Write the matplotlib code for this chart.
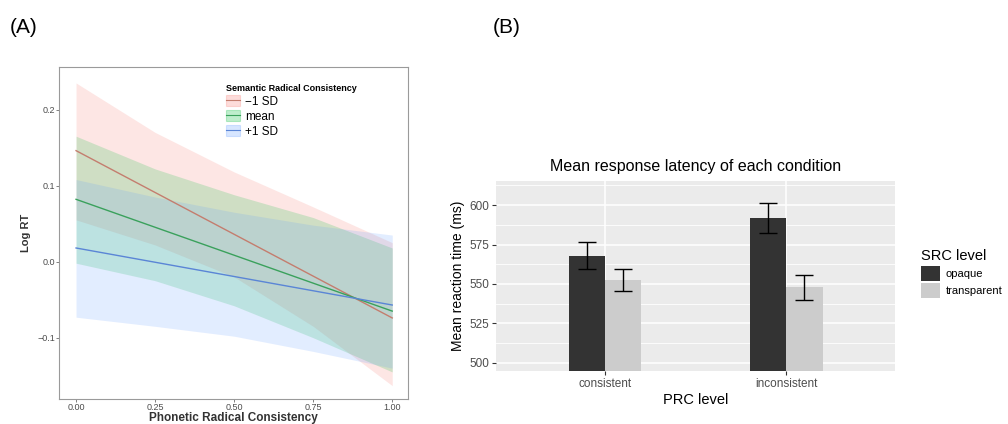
import numpy as np
import matplotlib
matplotlib.use("Agg")
import matplotlib.pyplot as plt
from matplotlib.patches import Patch
from matplotlib.lines import Line2D
from matplotlib.legend_handler import HandlerTuple

plt.rcParams['font.family'] = ['Liberation Sans', 'DejaVu Sans']

# ---- panel A data: regression lines with confidence bands ----
prc_x = [0.0, 0.25, 0.5, 0.75, 1.0]
src_levels = ['\u22121 SD', 'mean', '+1 SD']
line_start = [0.146, 0.082, 0.018]    # fitted log RT at PRC = 0
line_end = [-0.074, -0.065, -0.057]   # fitted log RT at PRC = 1
band_upper = [
    [0.235, 0.170, 0.118, 0.072, 0.025],
    [0.165, 0.122, 0.088, 0.058, 0.018],
    [0.108, 0.085, 0.065, 0.048, 0.035],
]
band_lower = [
    [0.055, 0.022, -0.020, -0.085, -0.163],
    [-0.002, -0.025, -0.058, -0.100, -0.145],
    [-0.073, -0.085, -0.098, -0.118, -0.140],
]
fill_cols = ['#F8766D', '#00BA38', '#619CFF']
line_cols = ['#c47d6e', '#3aa15c', '#5a85d6']

# ---- panel B data: mean RT per condition ----
prc_levels = ['consistent', 'inconsistent']
src_names = ['opaque', 'transparent']
rt_opaque = [567.9, 591.6]
rt_transparent = [552.5, 547.9]
err_opaque = [8.4, 9.6]
err_transparent = [7.2, 7.9]
bar_cols = ['#333333', '#CCCCCC']

fig = plt.figure(figsize=(10.08, 4.24), dpi=100)

# ================= panel A =================
axA = fig.add_axes([0.0585, 0.060, 0.3463, 0.782])
for i in range(3):
    axA.fill_between(prc_x, band_lower[i], band_upper[i], color=fill_cols[i],
                     alpha=0.18, linewidth=0)
for i in range(3):
    axA.plot([0, 1], [line_start[i], line_end[i]], color=line_cols[i], lw=1.0)

axA.set_xlim(-0.054, 1.05)
axA.set_ylim(-0.180, 0.256)
axA.set_xticks([0, 0.25, 0.5, 0.75, 1.0])
axA.set_xticklabels(['0.00', '0.25', '0.50', '0.75', '1.00'])
axA.set_yticks([-0.1, 0.0, 0.1, 0.2])
axA.set_yticklabels(['\u22120.1', '0.0', '0.1', '0.2'])
axA.tick_params(labelsize=6.5, labelcolor='#4d4d4d', color='#4d4d4d',
                length=2, width=0.5, pad=1)
for s in axA.spines.values():
    s.set_color('#9a9a9a')
    s.set_linewidth(0.8)
axA.set_xlabel('Phonetic Radical Consistency', fontsize=8.5, fontweight='bold',
               color='#333333', labelpad=0)
axA.set_ylabel('Log RT', fontsize=8, fontweight='bold', color='#333333', labelpad=4)

handles = []
for i in range(3):
    p = Patch(facecolor=fill_cols[i], alpha=0.25, edgecolor=fill_cols[i], linewidth=0.8)
    l = Line2D([], [], color=line_cols[i], lw=0.8)
    handles.append((p, l))
legA = axA.legend(handles, src_levels, handler_map={tuple: HandlerTuple(ndivide=1)},
                  loc='upper left', bbox_to_anchor=(0.455, 0.975), frameon=False,
                  fontsize=8.5, title='Semantic Radical Consistency',
                  title_fontproperties={'weight': 'bold', 'size': 6.5},
                  handlelength=1.2, handleheight=1.1, handletextpad=0.4,
                  labelspacing=0.2, borderpad=0.2)
legA._legend_box.align = 'left'

fig.text(0.010, 0.935, '(A)', fontsize=15, va='center', ha='left')

# ================= panel B =================
axB = fig.add_axes([0.492, 0.125, 0.396, 0.448])
axB.set_facecolor('#EBEBEB')
xpos = np.arange(1, len(prc_levels) + 1)
bw = 0.2
axB.bar(xpos - bw / 2, rt_opaque, width=bw, color=bar_cols[0], zorder=3, label=src_names[0])
axB.bar(xpos + bw / 2, rt_transparent, width=bw, color=bar_cols[1], zorder=3, label=src_names[1])
axB.errorbar(xpos - bw / 2, rt_opaque, yerr=err_opaque, fmt='none', ecolor='black',
             elinewidth=1.0, capsize=6.5, capthick=1.0, zorder=4)
axB.errorbar(xpos + bw / 2, rt_transparent, yerr=err_transparent, fmt='none', ecolor='black',
             elinewidth=1.0, capsize=6.5, capthick=1.0, zorder=4)

axB.set_xlim(0.4, 2.6)
axB.set_ylim(494.9, 615.2)
axB.set_xticks(xpos)
axB.set_xticklabels(prc_levels)
axB.set_yticks([500, 525, 550, 575, 600])
axB.set_yticks([512.5, 537.5, 562.5, 587.5, 612.5], minor=True)
axB.grid(which='major', color='white', linewidth=1.1, zorder=0)
axB.grid(which='minor', axis='y', color='white', linewidth=0.6, zorder=0)
axB.set_axisbelow(True)
axB.tick_params(which='major', labelsize=8.5, labelcolor='#4d4d4d', color='#333333',
                length=3, width=0.8, pad=2)
axB.tick_params(which='minor', length=0)
for s in axB.spines.values():
    s.set_visible(False)
axB.set_title('Mean response latency of each condition', fontsize=11.5, pad=7)
axB.set_xlabel('PRC level', fontsize=10.5, labelpad=2)
axB.set_ylabel('Mean reaction time (ms)', fontsize=10, labelpad=3)

legB = axB.legend(loc='upper left', bbox_to_anchor=(1.05, 0.67), frameon=False,
                  fontsize=8, title='SRC level', title_fontsize=10.5,
                  handlelength=1.75, handleheight=1.75, handletextpad=0.5,
                  labelspacing=0.2, borderpad=0)
legB._legend_box.align = 'left'

fig.text(0.489, 0.935, '(B)', fontsize=15, va='center', ha='left')

fig.savefig('out.png', dpi=100)
